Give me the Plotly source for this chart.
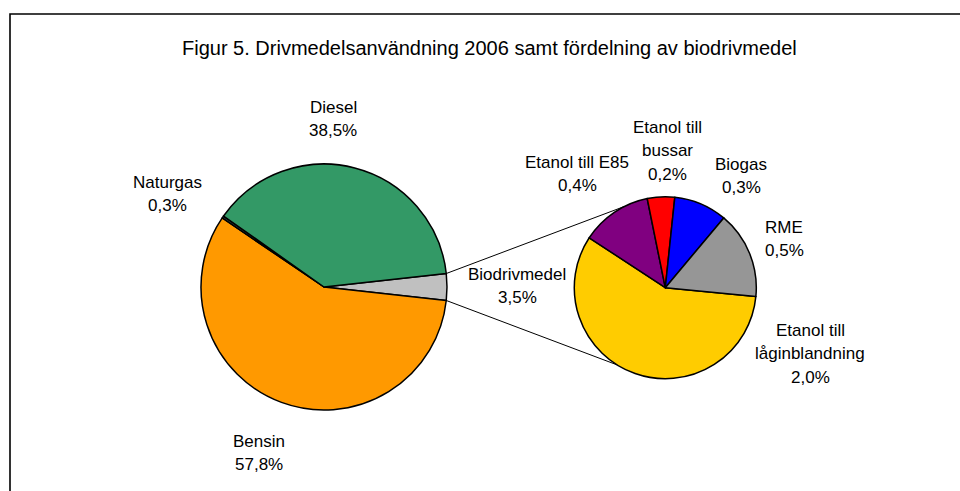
import math
import plotly.graph_objects as go

# ---------------- data ----------------
main_labels = ["Biodrivmedel", "Bensin", "Naturgas", "Diesel"]
main_values = [3.5, 57.8, 0.3, 38.5]
main_colors = ["#C0C0C0", "#FF9900", "#2F4F4F", "#339966"]

bio_labels = ["Etanol till låginblandning", "Etanol till E85", "Etanol till bussar", "Biogas", "RME"]
bio_values = [2.02, 0.44, 0.17, 0.33, 0.54]
bio_colors = ["#FFCC00", "#800080", "#FF0000", "#0000FF", "#969696"]

title_text = "Figur 5. Drivmedelsanvändning 2006 samt fördelning av biodrivmedel"

# ---------------- layout geometry (pixels) ----------------
W, H = 960, 491
FONT = "Liberation Sans, Arial, sans-serif"
main_c, main_r = (324.0, 287.0), 123.0
bio_c, bio_r = (665.3, 287.7), 91.0
bio_start_deg = -5.5          # math angle where first secondary slice starts
conn_end_deg = (117.0, -122.0)  # where connector lines meet the secondary pie

# label placement: first line center (px) for each label
label_pos = {
    "Diesel": (333, 107),
    "Naturgas": (167, 182),
    "Bensin": (259, 441),
    "Biodrivmedel": (517, 274),
    "Etanol till låginblandning": (810, 330),
    "Etanol till E85": (577, 162),
    "Etanol till bussar": (667, 127),
    "Biogas": (741, 164),
    "RME": (784, 227),
}
label_lines = {
    "Etanol till låginblandning": ["Etanol till", "låginblandning"],
    "Etanol till bussar": ["Etanol till", "bussar"],
}
LINE_STEP = 23.5
LABEL_SIZE = 17


def px2paper(x, y):
    return x / W, 1 - y / H


def domain(c, r):
    x0, y1 = px2paper(c[0] - r, c[1] - r)
    x1, y0 = px2paper(c[0] + r, c[1] + r)
    return dict(x=[x0, x1], y=[y0, y1])


def pct(v):
    return f"{v:.1f}".replace(".", ",") + "%"


fig = go.Figure()

gray_half_deg = main_values[0] / sum(main_values) * 360 / 2
fig.add_trace(go.Pie(
    labels=main_labels, values=main_values, sort=False,
    direction="clockwise", rotation=90 - gray_half_deg,
    marker=dict(colors=main_colors, line=dict(color="black", width=1.5)),
    textinfo="none", hoverinfo="label+percent", showlegend=False,
    domain=domain(main_c, main_r),
))
fig.add_trace(go.Pie(
    labels=bio_labels, values=bio_values, sort=False,
    direction="clockwise", rotation=90 - bio_start_deg,
    marker=dict(colors=bio_colors, line=dict(color="black", width=1.5)),
    textinfo="none", hoverinfo="label+value", showlegend=False,
    domain=domain(bio_c, bio_r),
))

shapes = []
# connector lines
for sgn, end_deg in zip((1, -1), conn_end_deg):
    a = math.radians(sgn * gray_half_deg)
    sx = main_c[0] + main_r * math.cos(a)
    sy = main_c[1] - main_r * math.sin(a)
    b = math.radians(end_deg)
    ex = bio_c[0] + bio_r * math.cos(b)
    ey = bio_c[1] - bio_r * math.sin(b)
    x0, y0 = px2paper(sx, sy)
    x1, y1 = px2paper(ex, ey)
    shapes.append(dict(type="line", xref="paper", yref="paper",
                       x0=x0, y0=y0, x1=x1, y1=y1,
                       line=dict(color="black", width=1)))
# chart frame (top and left edges visible)
fx, fy = px2paper(10, 14)
shapes.append(dict(type="path", xref="paper", yref="paper",
                   path=f"M {fx} 0 L {fx} {fy} L 1 {fy}",
                   line=dict(color="black", width=1.6)))

annotations = []
tx, ty = px2paper(490, 48)
annotations.append(dict(text=title_text, x=tx, y=ty, xref="paper", yref="paper",
                        showarrow=False, xanchor="center", yanchor="middle",
                        font=dict(family=FONT, size=20, color="black")))

all_labels = main_labels + bio_labels
all_values = main_values + bio_values
for name, val in zip(all_labels, all_values):
    lines = label_lines.get(name, [name]) + [pct(val)]
    cx, cy = label_pos[name]
    for i, ln in enumerate(lines):
        ax, ay = px2paper(cx, cy + i * LINE_STEP)
        annotations.append(dict(text=ln, x=ax, y=ay, xref="paper", yref="paper",
                                showarrow=False, xanchor="center", yanchor="middle",
                                font=dict(family=FONT, size=LABEL_SIZE, color="black")))

fig.update_layout(
    width=W, height=H, margin=dict(l=0, r=0, t=0, b=0),
    paper_bgcolor="white", plot_bgcolor="white",
    shapes=shapes, annotations=annotations,
)

fig.write_html(
    "out.html",
    config={"displayModeBar": False},
    post_script=(
        "document.documentElement.style.overflow='hidden';"
        "document.body.style.margin='0';document.body.style.overflow='hidden';"
    ),
)
